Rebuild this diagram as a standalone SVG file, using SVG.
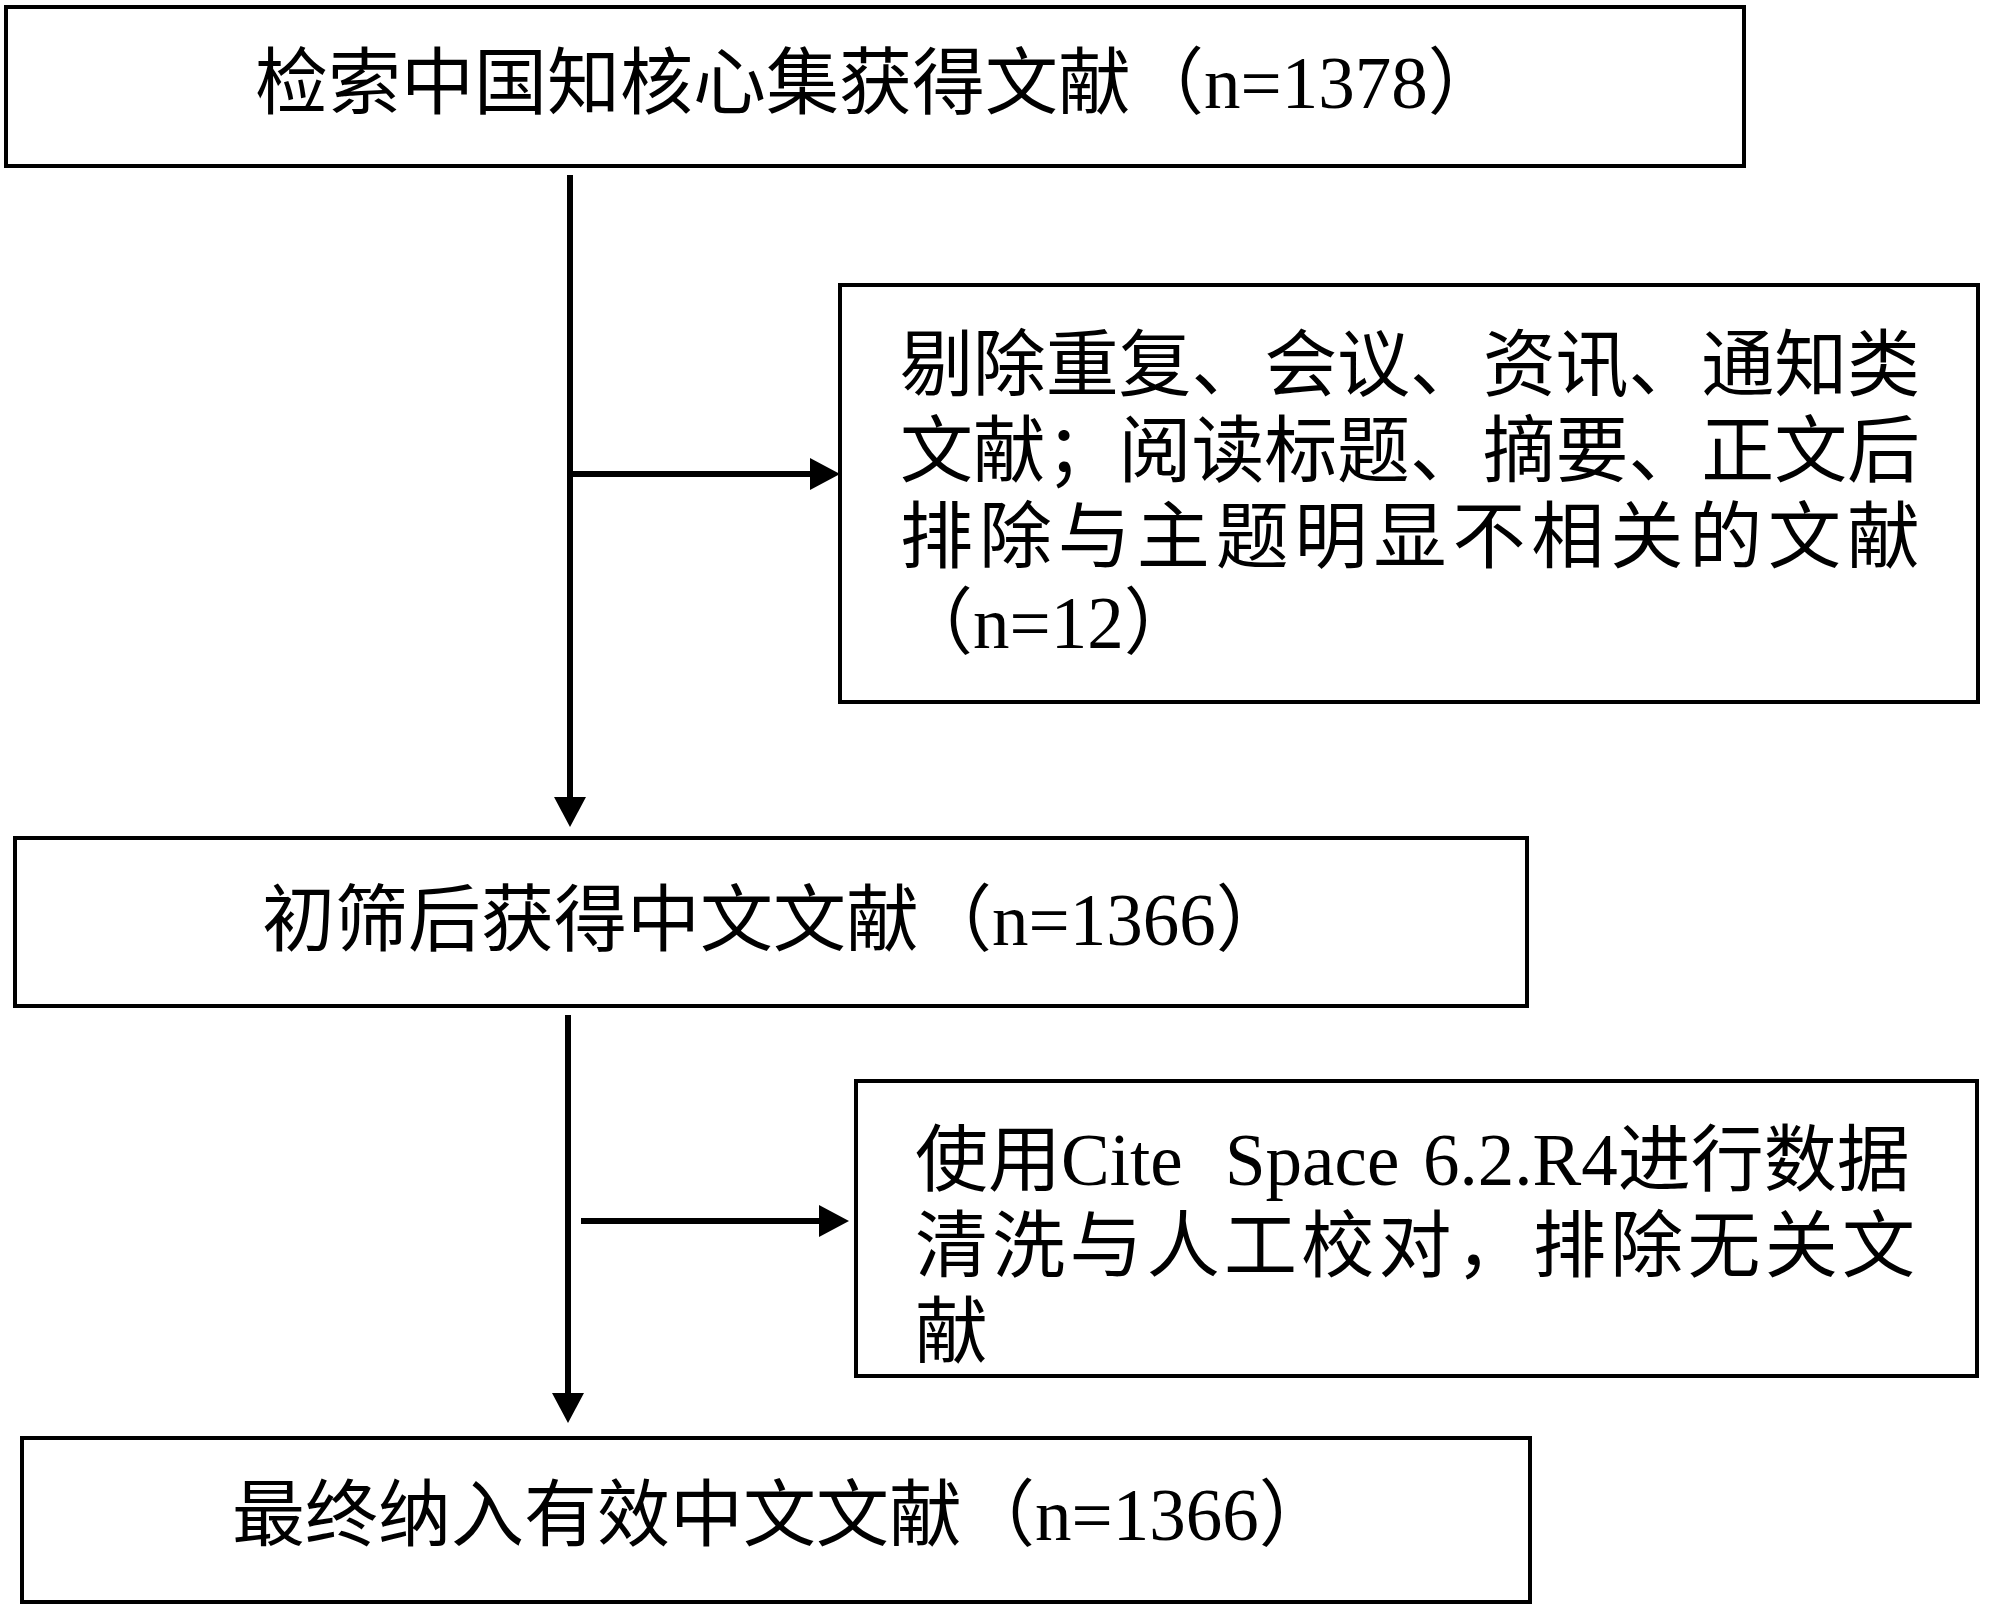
<svg xmlns="http://www.w3.org/2000/svg" width="2000" height="1624" viewBox="0 0 2000 1624">
<style>
.box{fill:#fff;stroke:#000;stroke-width:4}
.t{font-family:"Liberation Serif","Noto Sans CJK SC",serif;font-size:73px;fill:#000}
.c{stroke:#000;stroke-width:6;fill:none}
</style>
<defs>
<marker id="ah" markerUnits="userSpaceOnUse" markerWidth="32" markerHeight="34" viewBox="0 -17 32 34" refX="0" refY="0" orient="auto">
<path d="M0,-16 L30,0 L0,16 z" fill="#000"/>
</marker>
</defs>
<rect width="2000" height="1624" fill="#fff"/>
<g id="connectors">
<line class="c" x1="570" y1="175" x2="570" y2="797" marker-end="url(#ah)"/>
<line class="c" x1="567" y1="474" x2="810" y2="474" marker-end="url(#ah)"/>
<line class="c" x1="568" y1="1015" x2="568" y2="1393" marker-end="url(#ah)"/>
<line class="c" x1="581" y1="1221" x2="819" y2="1221" marker-end="url(#ah)"/>
</g>
<g id="n1">
<rect class="box" x="6" y="7" width="1738" height="159"/>
<text class="t" x="255" y="108">检索中国知核心集获得文献（n=1378）</text>
</g>
<g id="n2">
<rect class="box" x="840" y="285" width="1138" height="417"/>
<text class="t" x="900" y="390" textLength="1020" lengthAdjust="spacing">剔除重复、会议、资讯、通知类</text>
<text class="t" x="900" y="476" textLength="1020" lengthAdjust="spacing">文献；阅读标题、摘要、正文后</text>
<text class="t" x="900" y="562" textLength="1020" lengthAdjust="spacing">排除与主题明显不相关的文献</text>
<text class="t" x="900" y="648">（n=12）</text>
</g>
<g id="n3">
<rect class="box" x="15" y="838" width="1512" height="168"/>
<text class="t" x="262" y="945">初筛后获得中文文献（n=1366）</text>
</g>
<g id="n4">
<rect class="box" x="856" y="1081" width="1121" height="295"/>
<text class="t" y="1185"><tspan x="915">使用Cite</tspan><tspan x="1225">Space</tspan><tspan x="1423">6.2.R4进行数据</tspan></text>
<text class="t" x="915" y="1271" textLength="1000" lengthAdjust="spacing">清洗与人工校对，排除无关文</text>
<text class="t" x="915" y="1357">献</text>
</g>
<g id="n5">
<rect class="box" x="22" y="1438" width="1508" height="164"/>
<text class="t" x="232" y="1540">最终纳入有效中文文献（n=1366）</text>
</g>
</svg>
